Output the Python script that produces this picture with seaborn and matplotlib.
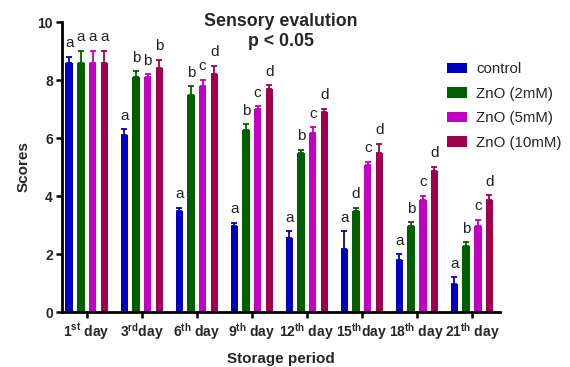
import matplotlib
matplotlib.use('Agg')
import matplotlib.pyplot as plt
import seaborn as sns
import pandas as pd
import numpy as np

days = ['1$^{st}$ day', '3$^{rd}$day', '6$^{th}$ day', '9$^{th}$ day',
        '12$^{th}$ day', '15$^{th}$day', '18$^{th}$ day', '21$^{th}$ day']
groups = ['control', 'ZnO (2mM)', 'ZnO (5mM)', 'ZnO (10mM)']
colors = ['#0000c4', '#006000', '#c400c4', '#a0004e']

control = [8.6, 6.1, 3.47, 2.97, 2.56, 2.17, 1.78, 0.98]
zno2 = [8.6, 8.1, 7.48, 6.28, 5.47, 3.47, 2.97, 2.27]
zno5 = [8.6, 8.1, 7.8, 7.0, 6.17, 5.07, 3.87, 2.98]
zno10 = [8.6, 8.4, 8.2, 7.7, 6.9, 5.48, 4.87, 3.87]

control_err = [0.2, 0.2, 0.13, 0.11, 0.23, 0.62, 0.21, 0.22]
zno2_err = [0.4, 0.2, 0.3, 0.2, 0.12, 0.13, 0.12, 0.13]
zno5_err = [0.4, 0.1, 0.2, 0.1, 0.2, 0.11, 0.13, 0.2]
zno10_err = [0.4, 0.3, 0.3, 0.12, 0.1, 0.32, 0.13, 0.15]

control_let = ['a'] * 8
zno2_let = ['a', 'b', 'b', 'b', 'b', 'd', 'b', 'b']
zno5_let = ['a', 'b', 'c', 'c', 'c', 'c', 'c', 'c']
zno10_let = ['a', 'b', 'd', 'd', 'd', 'd', 'd', 'd']

values = [control, zno2, zno5, zno10]
errs = [control_err, zno2_err, zno5_err, zno10_err]
letters = [control_let, zno2_let, zno5_let, zno10_let]

rows = []
for g, vals in zip(groups, values):
    for d, v in zip(days, vals):
        rows.append({'day': d, 'group': g, 'score': v})
df = pd.DataFrame(rows)

sns.set_style('ticks')
plt.rcParams['font.family'] = ['Liberation Sans', 'DejaVu Sans']
plt.rcParams['mathtext.fontset'] = 'custom'
plt.rcParams['mathtext.rm'] = 'Liberation Sans:bold'
plt.rcParams['mathtext.it'] = 'Liberation Sans:bold'
plt.rcParams['mathtext.bf'] = 'Liberation Sans:bold'

fig = plt.figure(figsize=(5.7, 3.67), dpi=100)
ax = fig.add_axes([62/570, 1-312/367, (500-62)/570, (312-22)/367])

sns.barplot(data=df, x='day', y='score', hue='group', order=days, hue_order=groups,
            palette=colors, width=0.85, gap=0.36, saturation=1, errorbar=None,
            edgecolor='none', linewidth=0, legend=True, ax=ax)

bar_containers = list(ax.containers)
for gi, cont in enumerate(bar_containers):
    for bi, bar in enumerate(cont.patches):
        x = bar.get_x() + bar.get_width() / 2
        h = bar.get_height()
        e = errs[gi][bi]
        ax.errorbar(x, h, yerr=[[0], [e]], fmt='none', ecolor=colors[gi],
                    elinewidth=1.3, capsize=2.2, capthick=1.3)
        ax.text(x, h + e + 0.33, letters[gi][bi], ha='center', va='baseline',
                fontsize=11, color='#222222')

ax.set_ylim(0, 10)
ax.set_xlim(-0.45, 7.51)
ax.set_yticks([0, 2, 4, 6, 8, 10])
for lab in ax.get_yticklabels() + ax.get_xticklabels():
    lab.set_fontweight('bold')
    lab.set_fontsize(10)
ax.tick_params(axis='both', direction='out', length=4.5, width=1.8, color='black', pad=2)
for s in ['left', 'bottom']:
    ax.spines[s].set_linewidth(2)
    ax.spines[s].set_color('black')
sns.despine(ax=ax)

ax.set_xlabel('Storage period', fontsize=11, fontweight='bold')
ax.xaxis.set_label_coords(0.5, -0.138)
ax.set_ylabel('Scores', fontsize=11, fontweight='bold', labelpad=5)

# title, two lines drawn separately
fig.text(281/570, 1-21/367, 'Sensory evalution', ha='center', va='center',
         fontsize=12.8, fontweight='bold')
fig.text(281/570, 1-41/367, 'p < 0.05', ha='center', va='center',
         fontsize=12.8, fontweight='bold')

handles, labels = ax.get_legend_handles_labels()
ax.legend(handles, labels, loc='upper left', bbox_to_anchor=(447/570, 1-62/367),
          bbox_transform=fig.transFigure, frameon=False, fontsize=10.8,
          handlelength=1.3, handleheight=0.7, labelspacing=0.71,
          handletextpad=0.65, borderpad=0, borderaxespad=0)

fig.savefig('out.png', dpi=100)
